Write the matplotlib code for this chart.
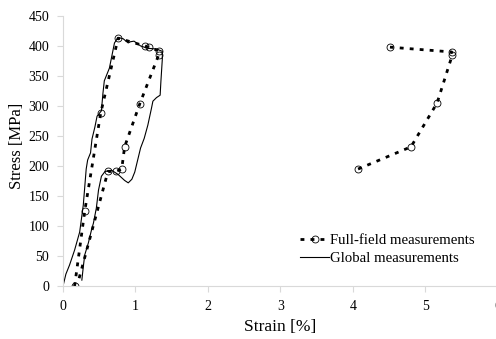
import numpy as np
import matplotlib.pyplot as plt

plt.rcParams['font.family'] = ['Liberation Serif', 'DejaVu Serif']

# Full-field measurements (two separate groups)
ff1_strain = [0.16, 0.30, 0.52, 0.76, 1.13, 1.18, 1.32, 1.32, 1.06, 0.85, 0.81, 0.73, 0.62, 0.22]
ff1_stress = [0, 125, 288, 413, 400, 398, 392, 385, 304, 232, 195, 191, 191, 12]
ff2_strain = [4.07, 4.80, 5.16, 5.37, 5.36, 4.51]
ff2_stress = [195, 232, 305, 385, 390, 398]

# Global measurements
gl_strain = [0.00, 0.04, 0.09, 0.16, 0.23, 0.28, 0.32, 0.34, 0.38, 0.40, 0.44, 0.47,
             0.53, 0.55, 0.57, 0.64, 0.71, 0.76, 0.83, 0.90, 0.93, 0.98, 1.07, 1.17,
             1.29, 1.37, 1.37, 1.35, 1.34, 1.29, 1.24, 1.22, 1.17, 1.12, 1.07, 1.03,
             0.99, 0.95, 0.90, 0.85, 0.76, 0.67, 0.58, 0.53, 0.49, 0.46, 0.42, 0.39,
             0.35, 0.30, 0.28, 0.26]
gl_stress = [0, 20, 35, 60, 90, 135, 195, 210, 222, 245, 265, 283,
             292, 320, 342, 363, 405, 414, 412, 405, 407, 408, 400, 396,
             395, 391, 378, 340, 318, 314, 308, 296, 268, 246, 230, 210,
             190, 178, 172, 176, 186, 193, 191, 183, 160, 130, 105, 92,
             72, 52, 32, 10]

xticks = [0, 1, 2, 3, 4, 5, 6]
yticks = np.arange(0, 451, 50)

ff_strain = ff1_strain + [np.nan] + ff2_strain
ff_stress = ff1_stress + [np.nan] + ff2_stress
# last point of the first group carries no marker
marks = [i for i in range(len(ff_strain)) if i != len(ff1_strain) - 1 and i != len(ff1_strain)]

fig = plt.figure(figsize=(4.96, 3.39), dpi=100)
ax = fig.add_axes([0.127, 0.156, 0.877, 0.797])

ax.plot(gl_strain, gl_stress, color='black', lw=0.8, label='Global measurements')
ax.plot(ff_strain, ff_stress, color='black', lw=2.0, dashes=(1.4, 2.2),
        marker='o', markersize=5, markerfacecolor='none', markeredgecolor='black',
        markeredgewidth=0.6, markevery=marks, label='Full-field measurements')

ax.set_xlim(0, 6)
ax.set_ylim(0, 450)
ax.set_xticks(xticks)
ax.set_yticks(yticks)
ax.tick_params(labelsize=10, color='#d9d9d9', length=4, width=0.8, pad=6)
for s in ['top', 'right']:
    ax.spines[s].set_visible(False)
for s in ['left', 'bottom']:
    ax.spines[s].set_color('#d9d9d9')
    ax.spines[s].set_linewidth(0.8)

ax.set_xlabel('Strain [%]', fontsize=12.5, labelpad=4)
ax.set_ylabel('Stress [MPa]', fontsize=12)
ax.yaxis.set_label_coords(-0.087, 0.52)

h, l = ax.get_legend_handles_labels()
ax.legend(h[::-1], l[::-1], loc='upper left', bbox_to_anchor=(0.578, 0.35),
          bbox_transform=fig.transFigure, frameon=False, fontsize=10.6,
          handlelength=2.0, handletextpad=0.05, labelspacing=0.35)

fig.savefig('out.png', dpi=100)
